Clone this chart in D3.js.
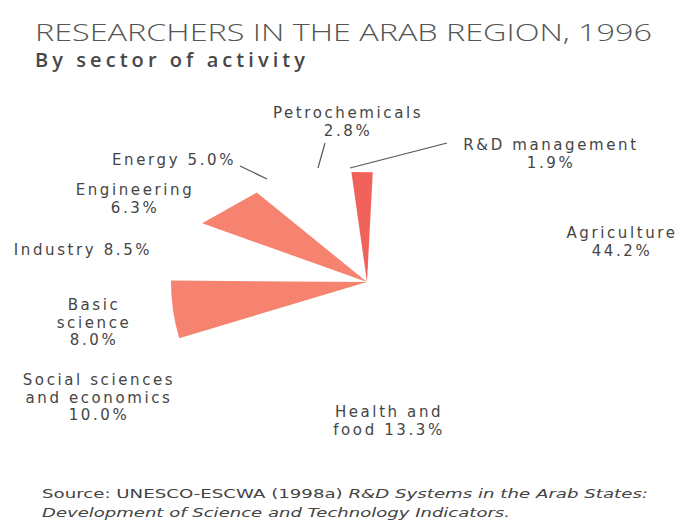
<!DOCTYPE html>
<html>
<head>
<meta charset="utf-8">
<title>Researchers in the Arab region, 1996</title>
<style>
  body { margin: 0; background: #fff; }
  text { font-family: "DejaVu Sans", sans-serif; fill: #454545; }
</style>
</head>
<body>
<div id="chart"></div>
<script src="https://cdnjs.cloudflare.com/ajax/libs/d3/7.8.5/d3.min.js"></script>
<script>
// data, clockwise from the top
var sectors = ["R&D management", "Agriculture", "Health and food", "Social sciences and economics",
               "Basic science", "Industry", "Engineering", "Energy", "Petrochemicals"];
var shares = [1.9, 44.2, 13.3, 10.0, 8.0, 8.5, 6.3, 5.0, 2.8];
// label text, {v} is replaced by the share
var labelText = [["R&D management", "{v}"], ["Agriculture", "{v}"], ["Health and", "food {v}"],
                 ["Social sciences", "and economics", "{v}"], ["Basic", "science", "{v}"],
                 ["Industry {v}"], ["Engineering", "{v}"], ["Energy {v}"], ["Petrochemicals", "{v}"]];

// layout (not data)
var W = 694, H = 521, cx = 367, cy = 282;
var labelPos = {
  "R&D management": [551, 150], "Agriculture": [622, 238], "Health and food": [389, 417],
  "Social sciences and economics": [99, 385], "Basic science": [94, 310], "Industry": [83, 255],
  "Engineering": [135, 195], "Energy": [174, 165], "Petrochemicals": [348, 118]
};
var leaders = {
  "Energy": [240, 166, 267, 179],
  "Petrochemicals": [325, 143, 318, 168],
  "R&D management": [447, 143, 350, 168]
};
// only these wedges survive in the print; inset = degrees trimmed off [start, end]
// r as a pair = flat (straight) outer edge from r[0] to r[1]
var wedgeStyle = {
  "Basic science": {r: 196, inset: [1.5, 10.2], fill: "#f5836f"},
  "Industry": {r: [175, 142], inset: [9, 2.2], fill: "#f5836f"},
  "Petrochemicals": {r: [111, 110], inset: [0, -1], fill: "#f1625a"}
};

var svg = d3.select("#chart").append("svg").attr("width", W).attr("height", H);
svg.append("rect").attr("width", W).attr("height", H).attr("fill", "#fff");

var rad = Math.PI / 180;
var pie = d3.pie().sort(null).startAngle(2 * rad).endAngle(362 * rad);
var arcs = pie(shares);
arcs.forEach(function(a, i) { a.name = sectors[i]; });

function st(d) { return wedgeStyle[d.name]; }
var arc = d3.arc()
  .innerRadius(0)
  .outerRadius(function(d) { return st(d).r; })
  .startAngle(function(d) { return d.startAngle + st(d).inset[0] * rad; })
  .endAngle(function(d) { return d.endAngle - st(d).inset[1] * rad; });
var flat = d3.lineRadial().curve(d3.curveLinearClosed);

function wedgePath(d) {
  var s = st(d);
  if (!Array.isArray(s.r)) return arc(d);
  var a0 = d.startAngle + s.inset[0] * rad, a1 = d.endAngle - s.inset[1] * rad;
  return flat([[0, 0], [a0, s.r[0]], [a1, s.r[1]]]);
}

svg.append("g").attr("transform", "translate(" + cx + "," + cy + ")")
  .selectAll("path").data(arcs.filter(st)).enter().append("path")
  .attr("d", wedgePath)
  .attr("fill", function(d) { return st(d).fill; });

// leader lines
Object.keys(leaders).forEach(function(k) {
  var l = leaders[k];
  svg.append("line").attr("x1", l[0]).attr("y1", l[1]).attr("x2", l[2]).attr("y2", l[3])
    .attr("stroke", "#555").attr("stroke-width", 1.2);
});

// labels
var fmt = d3.format(".1f");
sectors.forEach(function(s, i) {
  var p = labelPos[s];
  var t = svg.append("text").attr("text-anchor", "middle")
    .attr("font-size", 15).attr("letter-spacing", 2.6);
  labelText[i].forEach(function(line, j) {
    t.append("tspan").attr("x", p[0]).attr("y", p[1] + j * 17.5)
      .text(line.replace("{v}", fmt(shares[i]) + "%"));
  });
});

// titles
svg.append("text").attr("x", 35).attr("y", 41)
  .style("font-family", "'Open Sans', sans-serif").attr("font-weight", 300)
  .attr("font-size", 24).attr("textLength", 617).attr("lengthAdjust", "spacingAndGlyphs")
  .style("fill", "#555").text("RESEARCHERS IN THE ARAB REGION, 1996");
svg.append("text").attr("x", 35).attr("y", 67)
  .style("font-family", "'Open Sans', sans-serif").attr("font-weight", 600)
  .attr("font-size", 20).attr("textLength", 270).attr("lengthAdjust", "spacing")
  .style("fill", "#474747").text("By sector of activity");

// source
var src = svg.append("text").attr("x", 42).attr("y", 498).attr("font-size", 13)
  .attr("textLength", 606).attr("lengthAdjust", "spacingAndGlyphs").style("fill", "#444");
src.append("tspan").text("Source: UNESCO-ESCWA (1998a) ");
src.append("tspan").attr("font-style", "italic").text("R&D Systems in the Arab States:");
svg.append("text").attr("x", 42).attr("y", 517).attr("font-size", 13).attr("font-style", "italic")
  .attr("textLength", 468).attr("lengthAdjust", "spacingAndGlyphs").style("fill", "#444")
  .text("Development of Science and Technology Indicators.");
</script>
</body>
</html>
